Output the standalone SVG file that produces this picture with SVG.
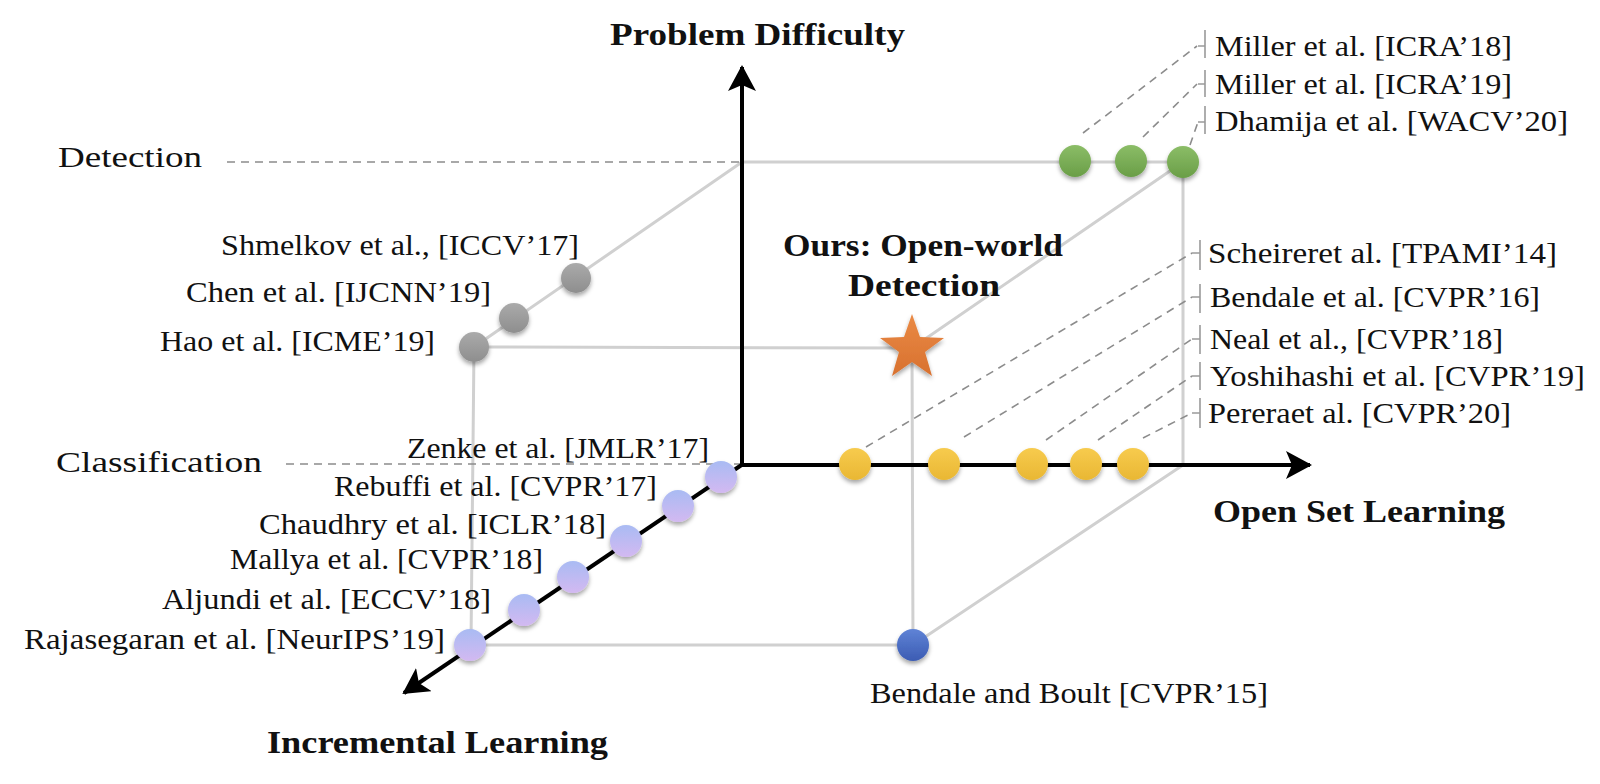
<svg xmlns="http://www.w3.org/2000/svg" width="1600" height="784" viewBox="0 0 1600 784">
<style>
.edge{stroke:#d0d0d0;stroke-width:3;fill:none;stroke-linecap:round}
.dash{stroke:#8c8c8c;stroke-width:1.6;fill:none;stroke-dasharray:8 6}
.tick{stroke:#9a9a9a;stroke-width:1.6;fill:none}
.axis{stroke:#000;stroke-width:4;fill:none}
.lab{font-family:"Liberation Serif","Times New Roman",serif;font-size:30px;fill:#111}
.bold{font-family:"Liberation Serif","Times New Roman",serif;font-size:31px;font-weight:bold;fill:#111}
</style>
<defs>
<filter id="sh" x="-50%" y="-50%" width="200%" height="200%">
<feDropShadow dx="0" dy="3" stdDeviation="2" flood-color="#000" flood-opacity="0.35"/>
</filter>
<linearGradient id="gGreen" x1="0" y1="0" x2="0" y2="1"><stop offset="0" stop-color="#8bbd67"/><stop offset="1" stop-color="#6a9e47"/></linearGradient>
<linearGradient id="gYellow" x1="0" y1="0" x2="0" y2="1"><stop offset="0" stop-color="#f7cb4e"/><stop offset="1" stop-color="#e9b733"/></linearGradient>
<linearGradient id="gGrey" x1="0" y1="0" x2="0" y2="1"><stop offset="0" stop-color="#aaaaaa"/><stop offset="1" stop-color="#8e8e8e"/></linearGradient>
<linearGradient id="gPurple" x1="0" y1="0" x2="0" y2="1"><stop offset="0" stop-color="#a9bbf3"/><stop offset="1" stop-color="#d3b9f1"/></linearGradient>
<linearGradient id="gBlue" x1="0" y1="0" x2="0" y2="1"><stop offset="0" stop-color="#5f83d6"/><stop offset="1" stop-color="#3c5cb3"/></linearGradient>
<linearGradient id="gOrange" x1="0" y1="0" x2="0" y2="1"><stop offset="0" stop-color="#ea8a45"/><stop offset="1" stop-color="#d8712f"/></linearGradient>
<marker id="arr" viewBox="0 0 26 28" refX="24" refY="14" markerWidth="26" markerHeight="28" markerUnits="userSpaceOnUse" orient="auto">
<path d="M0,0 L26,14 L0,28 L6,14 Z" fill="#000"/>
</marker>
</defs>

<g id="connectors">
<!-- cube edges -->
<line class="edge" x1="742" y1="162" x2="1183" y2="162"/>
<line class="edge" x1="1183" y1="162" x2="1183" y2="465"/>
<line class="edge" x1="1183" y1="162" x2="912" y2="348"/>
<line class="edge" x1="742" y1="162" x2="474" y2="347"/>
<line class="edge" x1="474" y1="347" x2="912" y2="348"/>
<line class="edge" x1="474" y1="347" x2="471" y2="645"/>
<line class="edge" x1="471" y1="645" x2="913" y2="645"/>
<line class="edge" x1="912" y1="348" x2="913" y2="645"/>
<line class="edge" x1="1183" y1="465" x2="913" y2="645"/>
<!-- level dashes -->
<line class="dash" x1="227" y1="162" x2="742" y2="162"/>
<line class="dash" x1="286" y1="464" x2="742" y2="464"/>
<!-- leaders to green -->
<line class="dash" x1="1083" y1="133" x2="1197" y2="46"/>
<line class="dash" x1="1143" y1="137" x2="1197" y2="84"/>
<line class="dash" x1="1190" y1="145" x2="1198" y2="122"/>
<!-- leaders to yellow -->
<line class="dash" x1="866" y1="447" x2="1192" y2="253"/>
<line class="dash" x1="964" y1="437" x2="1192" y2="297"/>
<line class="dash" x1="1046" y1="440" x2="1192" y2="339"/>
<line class="dash" x1="1098" y1="440" x2="1192" y2="376"/>
<line class="dash" x1="1143" y1="438" x2="1192" y2="413"/>
<!-- label ticks, top group -->
<path class="tick" d="M1198,46 H1205 M1205,30 V58"/>
<path class="tick" d="M1198,84 H1205 M1205,70 V97"/>
<path class="tick" d="M1198,122 H1205 M1205,106 V134"/>
<!-- label ticks, middle group -->
<path class="tick" d="M1192,253 H1200 M1200,240 V270"/>
<path class="tick" d="M1192,297 H1200 M1200,284 V313"/>
<path class="tick" d="M1192,339 H1200 M1200,325 V354"/>
<path class="tick" d="M1192,376 H1200 M1200,362 V390"/>
<path class="tick" d="M1192,413 H1200 M1200,398 V428"/>
<!-- axes -->
<line class="axis" x1="742" y1="467" x2="742" y2="67" marker-end="url(#arr)"/>
<line class="axis" x1="740" y1="465" x2="1310" y2="465" marker-end="url(#arr)"/>
<line class="axis" x1="743" y1="464" x2="404" y2="693" marker-end="url(#arr)"/>
</g>

<g id="detection-methods" filter="url(#sh)">
<circle cx="1075" cy="161" r="16" fill="url(#gGreen)"/>
<circle cx="1131" cy="161" r="16" fill="url(#gGreen)"/>
<circle cx="1183" cy="162" r="16" fill="url(#gGreen)"/>
</g>
<g id="openset-methods" filter="url(#sh)">
<circle cx="855" cy="464" r="16" fill="url(#gYellow)"/>
<circle cx="944" cy="464" r="16" fill="url(#gYellow)"/>
<circle cx="1032" cy="464" r="16" fill="url(#gYellow)"/>
<circle cx="1086" cy="464" r="16" fill="url(#gYellow)"/>
<circle cx="1133" cy="464" r="16" fill="url(#gYellow)"/>
</g>
<g id="incremental-detection" filter="url(#sh)">
<circle cx="576" cy="278" r="15" fill="url(#gGrey)"/>
<circle cx="514" cy="318" r="15" fill="url(#gGrey)"/>
<circle cx="474" cy="347" r="15" fill="url(#gGrey)"/>
</g>
<g id="incremental-methods" filter="url(#sh)">
<circle cx="721" cy="477" r="16" fill="url(#gPurple)"/>
<circle cx="678" cy="506" r="16" fill="url(#gPurple)"/>
<circle cx="626" cy="541" r="16" fill="url(#gPurple)"/>
<circle cx="573" cy="577" r="16" fill="url(#gPurple)"/>
<circle cx="524" cy="610" r="16" fill="url(#gPurple)"/>
<circle cx="470" cy="645" r="16" fill="url(#gPurple)"/>
</g>
<g id="bendale-boult" filter="url(#sh)">
<circle cx="913" cy="645" r="16" fill="url(#gBlue)"/>
</g>
<g id="ours" filter="url(#sh)">
<polygon fill="url(#gOrange)" points="912,314 920,337 944,338 925,352 932,376 912,362 892,376 899,352 880,338 904,337"/>
</g>

<g id="axis-labels">
<text class="bold" x="610" y="45" textLength="295" lengthAdjust="spacingAndGlyphs">Problem Difficulty</text>
<text class="bold" x="1213" y="522" textLength="292" lengthAdjust="spacingAndGlyphs">Open Set Learning</text>
<text class="bold" x="267" y="753" textLength="341" lengthAdjust="spacingAndGlyphs">Incremental Learning</text>
<text class="bold" x="783" y="256" textLength="280" lengthAdjust="spacingAndGlyphs">Ours: Open-world</text>
<text class="bold" x="848" y="296" textLength="152" lengthAdjust="spacingAndGlyphs">Detection</text>
</g>
<g id="level-labels">
<text class="lab" x="58" y="167" textLength="144" lengthAdjust="spacingAndGlyphs">Detection</text>
<text class="lab" x="56" y="472" textLength="206" lengthAdjust="spacingAndGlyphs">Classification</text>
</g>
<g id="method-labels">
<text class="lab" x="1215" y="56" textLength="297" lengthAdjust="spacingAndGlyphs">Miller et al. [ICRA’18]</text>
<text class="lab" x="1215" y="94" textLength="297" lengthAdjust="spacingAndGlyphs">Miller et al. [ICRA’19]</text>
<text class="lab" x="1215" y="131" textLength="353" lengthAdjust="spacingAndGlyphs">Dhamija et al. [WACV’20]</text>
<text class="lab" x="1208" y="263" textLength="349" lengthAdjust="spacingAndGlyphs">Scheireret al. [TPAMI’14]</text>
<text class="lab" x="1210" y="307" textLength="330" lengthAdjust="spacingAndGlyphs">Bendale et al. [CVPR’16]</text>
<text class="lab" x="1210" y="349" textLength="293" lengthAdjust="spacingAndGlyphs">Neal et al., [CVPR’18]</text>
<text class="lab" x="1210" y="386" textLength="375" lengthAdjust="spacingAndGlyphs">Yoshihashi et al. [CVPR’19]</text>
<text class="lab" x="1208" y="423" textLength="303" lengthAdjust="spacingAndGlyphs">Pereraet al. [CVPR’20]</text>
<text class="lab" x="221" y="255" textLength="358" lengthAdjust="spacingAndGlyphs">Shmelkov et al., [ICCV’17]</text>
<text class="lab" x="186" y="302" textLength="305" lengthAdjust="spacingAndGlyphs">Chen et al. [IJCNN’19]</text>
<text class="lab" x="160" y="351" textLength="275" lengthAdjust="spacingAndGlyphs">Hao et al. [ICME’19]</text>
<text class="lab" x="407" y="458" textLength="302" lengthAdjust="spacingAndGlyphs">Zenke et al. [JMLR’17]</text>
<text class="lab" x="334" y="496" textLength="323" lengthAdjust="spacingAndGlyphs">Rebuffi et al. [CVPR’17]</text>
<text class="lab" x="259" y="534" textLength="347" lengthAdjust="spacingAndGlyphs">Chaudhry et al. [ICLR’18]</text>
<text class="lab" x="230" y="569" textLength="313" lengthAdjust="spacingAndGlyphs">Mallya et al. [CVPR’18]</text>
<text class="lab" x="162" y="609" textLength="329" lengthAdjust="spacingAndGlyphs">Aljundi et al. [ECCV’18]</text>
<text class="lab" x="24" y="649" textLength="421" lengthAdjust="spacingAndGlyphs">Rajasegaran et al. [NeurIPS’19]</text>
<text class="lab" x="870" y="703" textLength="398" lengthAdjust="spacingAndGlyphs">Bendale and Boult [CVPR’15]</text>
</g>
</svg>
